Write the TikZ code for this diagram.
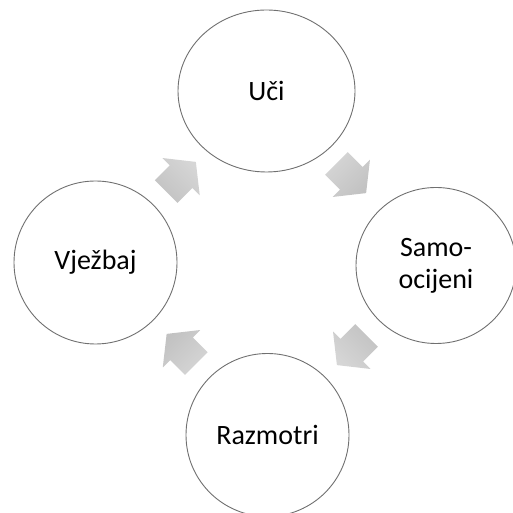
\documentclass[tikz,border=0pt]{standalone}
\usepackage{fontspec}
\setmainfont{Carlito}
\usetikzlibrary{shapes.geometric,calc}
\definecolor{ringgray}{HTML}{707070}
\definecolor{arrowtop}{HTML}{D6D6D6}
\definecolor{arrowbot}{HTML}{C2C2C2}
\begin{document}
\begin{tikzpicture}[x=1pt,y=1pt,
  stage/.style={draw=ringgray, line width=0.9pt, fill=white, inner sep=0pt,
    font=\fontsize{28}{32}\selectfont, align=center},
  roundstage/.style={stage, circle, minimum size=163pt},
  ovalstage/.style 2 args={stage, ellipse, minimum width=#1, minimum height=#2},
  blockarrow/.pic={
    \begin{scope}[rotate=#1]
    \shade[top color=arrowtop, bottom color=arrowbot, shading angle=-#1]
      (-21,-16) -- (0,-16) -- (0,-26.5) -- (21,0) -- (0,26.5) -- (0,16) -- (-21,16) -- cycle;
    \end{scope}
  }
]
\useasboundingbox (0,0) rectangle (512,513);
\node[ovalstage={177pt}{162pt}] (u) at (266.5,422) {Uči};
\node[ovalstage={160pt}{156pt}] (s) at (436,247.5) {Samo-\\ocijeni};
\node[roundstage] (r) at (267.5,78) {Razmotri};
\node[roundstage] (v) at (95.5,250.5) {Vježbaj};
\pic at ($(v)!0.5!(u)$) {blockarrow=45};
\pic at ($(u)!0.5!(s)$) {blockarrow=-45};
\pic at ($(s)!0.5!(r)$) {blockarrow=-135};
\pic at ($(r)!0.5!(v)$) {blockarrow=135};
\end{tikzpicture}
\end{document}
